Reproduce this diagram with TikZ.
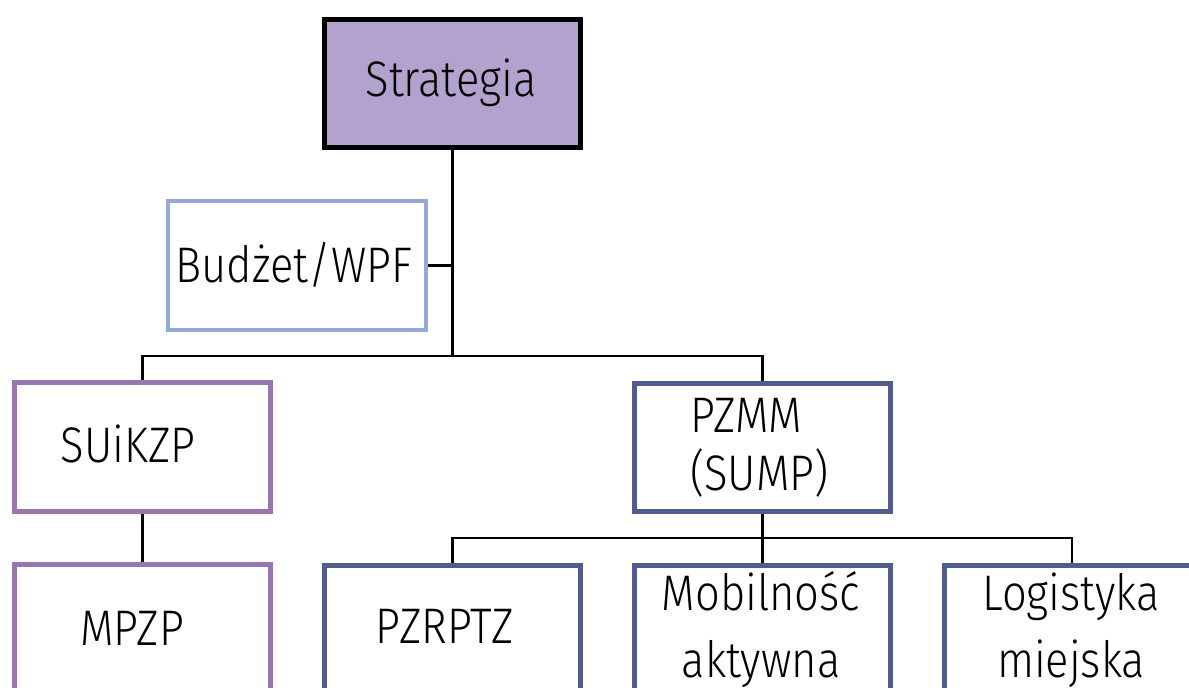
\documentclass[tikz,border=0pt]{standalone}
\usepackage{fontspec}
\setmainfont{Fira Sans}[UprightFont=* Light, FakeStretch=0.87]
\definecolor{stratfill}{HTML}{B3A2CD}
\definecolor{budzetc}{HTML}{95A9D8}
\definecolor{purplec}{HTML}{9876B0}
\definecolor{navyc}{HTML}{525C8C}
\tikzset{
  box/.style={draw, line width=5pt, minimum width=256pt, minimum height=129pt, inner sep=0pt},
  lbl/.style={anchor=base, inner sep=0pt, font=\fontsize{50}{60}\selectfont},
  conn/.style={line width=2.5pt},
}
\begin{document}
\begin{tikzpicture}[x=1pt,y=-1pt]
\useasboundingbox (0,0) rectangle (1189,688);
\clip (0,0) rectangle (1189,688);
\node[box, fill=stratfill, draw=black, minimum height=128pt] (strat) at (452.5,83.5) {};
\node[box, draw=budzetc, line width=4pt, minimum width=258pt] (budzet) at (297,265.5) {};
\node[box, draw=purplec] (suikzp) at (142.5,447) {};
\node[box, draw=purplec] (mpzp) at (142.5,629) {};
\node[box, draw=navyc, minimum height=128pt] (pzmm) at (762.5,447.5) {};
\node[box, draw=navyc] (pzrptz) at (452.5,630) {};
\node[box, draw=navyc] (mobil) at (762.5,630) {};
\node[box, draw=navyc] (logis) at (1072,630) {};
% texts
\node[lbl] (tstrat) at (451,96) {Strategia};
\node[lbl] (tbudzet) at (294,282) {Budżet/WPF};
\node[lbl] (tsuikzp) at (128,462) {SUiKZP};
\node[lbl] (tmpzp) at (132,645) {MPZP};
\node[lbl, anchor=base west] (tpzmm1) at (690,432) {PZMM};
\node[lbl, anchor=base west] (tpzmm2) at (690,490) {(SUMP)};
\node[lbl] (tpzrptz) at (445,643) {PZRPTZ};
\node[lbl] (tmobil1) at (761,610) {Mobilność};
\node[lbl] (tmobil2) at (761,677) {aktywna};
\node[lbl] (tlogis1) at (1071,610) {Logistyka};
\node[lbl] (tlogis2) at (1071,677) {miejska};
% connectors
\coordinate (j1) at (452.5,356);
\coordinate (j2) at (762.5,538);
\draw[conn] (strat.south) -- (j1);
\draw[conn] (budzet.east) -- (budzet.east -| strat.south);
\draw[conn] (j1) -| (suikzp.north);
\draw[conn] (j1) -| (pzmm.north);
\draw[conn] (suikzp.south) -- (mpzp.north);
\draw[conn] (pzmm.south) -- (j2);
\draw[conn] (j2) -| (pzrptz.north);
\draw[conn] (j2) -- (mobil.north);
\draw[conn] (j2) -| (logis.north);
\end{tikzpicture}
\end{document}
